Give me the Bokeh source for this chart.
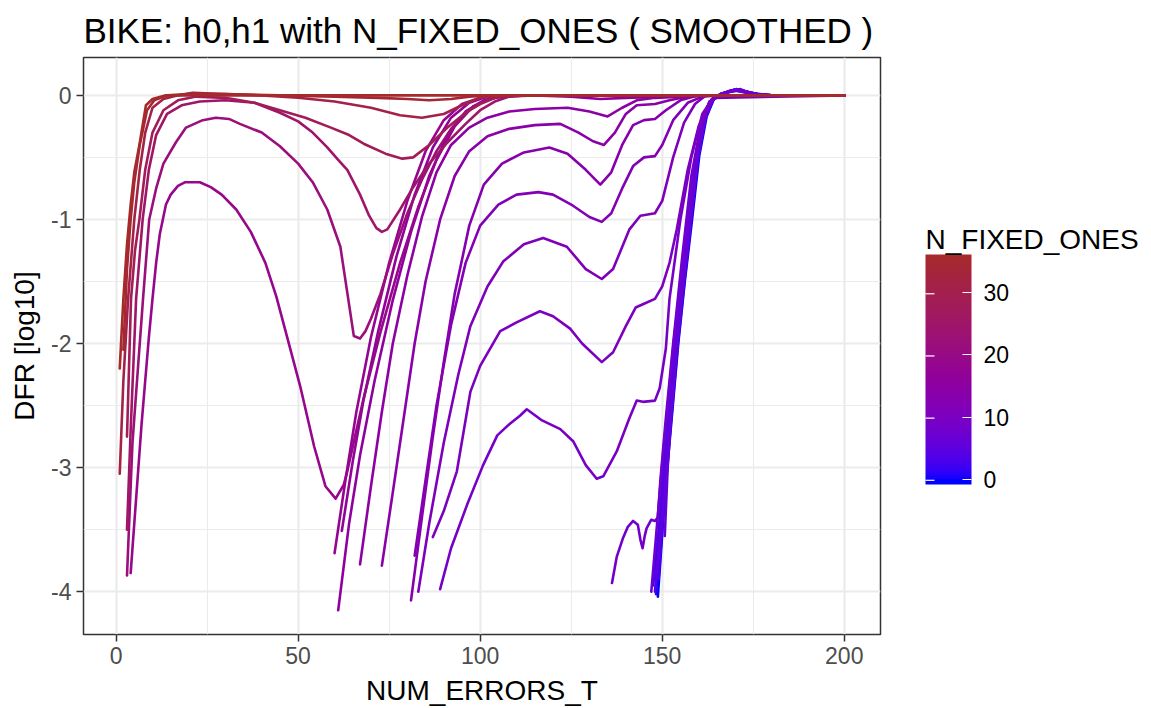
from bokeh.plotting import figure
from bokeh.layouts import row
from bokeh.models import ColumnDataSource, LinearColorMapper, ColorBar, FixedTicker, Range1d, Label
from bokeh.transform import transform
from bokeh.embed import file_html
from bokeh.resources import INLINE

# ---------------- data ----------------
x_n36 = [1, 2, 3, 4, 5, 6.4, 8.2, 10, 13.7, 20, 40, 60, 80, 100, 120, 140, 160, 180, 200]
y_n36 = [-2.2, -1.64, -1.2, -0.88, -0.62, -0.4, -0.08, -0.03, 0, 0, 0, 0, 0, 0, 0, 0, 0, 0, 0]

x_n34 = [2, 3, 4, 5, 6.5, 8.5, 10.5, 14, 20, 30, 45, 60, 72, 80, 86, 92, 97, 102, 120, 150, 170, 200]
y_n34 = [-2.05, -1.4, -1.0, -0.7, -0.4, -0.12, -0.04, 0, 0.01, 0.01, 0, -0.01, -0.02, -0.03, -0.04, -0.03, -0.01, 0, 0, 0, 0, 0]

x_n31 = [1, 2, 3.3, 5, 6.5, 8, 10, 13, 17, 21, 30, 40, 50, 60, 70, 78, 84, 90, 95, 100, 105, 120, 150, 200]
y_n31 = [-3.05, -2.3, -1.64, -1.0, -0.6, -0.3, -0.1, -0.03, 0, 0.02, 0.01, 0, -0.02, -0.05, -0.1, -0.16, -0.18, -0.15, -0.08, -0.02, 0, 0, 0, 0]

x_n28 = [3, 4.1, 5.2, 6.4, 8, 10, 13, 17, 22, 30, 38, 45, 52, 59, 64, 68, 74, 78.6, 81.6, 86, 91, 96, 100, 105, 110, 130, 160, 200]
y_n28 = [-2.75, -1.64, -1.25, -1.0, -0.6, -0.3, -0.12, -0.04, -0.01, -0.02, -0.06, -0.12, -0.18, -0.26, -0.32, -0.39, -0.47, -0.51, -0.5, -0.4, -0.26, -0.14, -0.07, -0.01, 0, 0, 0, 0]

x_n25 = [3, 4, 5.5, 7.3, 9, 11, 14, 18, 23, 30, 38, 45, 50, 54, 58, 61, 63.5, 67, 69.5, 71.5, 73, 74.5, 78, 81.6, 86, 91, 96, 100, 104, 108, 112, 140, 200]
y_n25 = [-3.5, -2.7, -1.64, -1.0, -0.6, -0.32, -0.15, -0.08, -0.05, -0.04, -0.06, -0.14, -0.21, -0.3, -0.42, -0.52, -0.6, -0.8, -0.97, -1.07, -1.1, -1.08, -0.92, -0.74, -0.55, -0.38, -0.23, -0.12, -0.05, -0.01, 0, 0, 0]

x_n22 = [3, 4.5, 6, 7.4, 9.1, 11, 13, 16.4, 19.2, 23.8, 27.4, 31, 34, 40, 45, 50, 54, 58, 61.6, 63.5, 65.3, 67, 68.5, 70, 72.6, 76, 80, 84, 88, 92, 96, 100, 104, 110, 140, 200]
y_n22 = [-3.87, -2.8, -2.2, -1.64, -1.0, -0.75, -0.55, -0.38, -0.26, -0.2, -0.18, -0.19, -0.23, -0.3, -0.41, -0.55, -0.7, -0.92, -1.22, -1.59, -1.94, -1.96, -1.9, -1.8, -1.6, -1.28, -0.95, -0.68, -0.45, -0.27, -0.14, -0.06, -0.02, 0, 0, 0]

x_n19 = [4, 5, 6, 7, 8, 9, 10, 11, 12, 13.7, 15, 17, 19, 23, 26, 29, 33, 37, 41, 44, 47, 50.7, 54.4, 57.5, 60.3, 62.5, 63.5, 66, 68, 72.6, 78, 83, 88, 93, 98, 103, 108, 140, 200]
y_n19 = [-3.85, -3.45, -3.05, -2.65, -2.3, -1.95, -1.64, -1.35, -1.12, -0.88, -0.8, -0.73, -0.7, -0.7, -0.74, -0.8, -0.92, -1.1, -1.35, -1.62, -1.95, -2.36, -2.83, -3.15, -3.25, -3.14, -3.03, -2.7, -2.44, -1.91, -1.35, -0.9, -0.52, -0.25, -0.09, -0.02, 0, 0, 0]

x_n18 = [60, 63, 66, 70, 75, 80, 85, 90, 95, 100, 105, 120, 150, 200]
y_n18 = [-3.69, -3.1, -2.55, -1.95, -1.35, -0.85, -0.45, -0.2, -0.07, -0.02, 0, 0, 0, 0]

x_n17 = [62, 65, 68, 72, 77, 82, 87, 92, 97, 102, 108, 120, 150, 200]
y_n17 = [-3.51, -2.95, -2.45, -1.9, -1.3, -0.8, -0.42, -0.18, -0.06, -0.01, 0, 0, 0, 0]

x_n16 = [61, 64, 67, 71, 76, 81, 86, 91, 96, 101, 106, 115, 125, 133, 140, 150, 160, 200]
y_n16 = [-4.15, -3.45, -2.9, -2.3, -1.65, -1.1, -0.65, -0.32, -0.13, -0.04, -0.01, 0, -0.01, -0.03, -0.02, -0.01, 0, 0]

x_n15 = [67, 70, 73, 76, 80, 84, 88, 92, 97, 102, 108, 115, 124, 130, 135, 139, 143, 148, 155, 162, 200]
y_n15 = [-3.78, -3.15, -2.55, -2.0, -1.45, -0.98, -0.62, -0.4, -0.26, -0.18, -0.13, -0.11, -0.1, -0.13, -0.17, -0.1, -0.04, -0.02, -0.01, 0, 0]

x_n14 = [73, 76, 79, 82, 85, 89, 93, 97, 102, 108, 115, 122, 127, 131, 134, 137, 140, 143, 148, 152, 157, 162, 200]
y_n14 = [-3.79, -3.2, -2.6, -2.0, -1.5, -1.0, -0.65, -0.45, -0.33, -0.27, -0.24, -0.23, -0.3, -0.37, -0.4, -0.3, -0.15, -0.08, -0.07, -0.04, -0.01, 0, 0]

x_n13 = [81, 84, 87, 90, 93, 97, 101, 106, 112, 119, 124, 129, 133, 136, 139, 142, 145, 148, 151, 155, 160, 200]
y_n13 = [-4.07, -3.4, -2.75, -2.15, -1.6, -1.05, -0.72, -0.55, -0.46, -0.42, -0.47, -0.6, -0.72, -0.62, -0.4, -0.24, -0.2, -0.19, -0.12, -0.04, 0, 0]

x_n12 = [82, 85, 88, 92, 96, 100, 105, 110, 116, 120, 125, 130, 133.4, 136, 139, 142, 145, 148, 150, 153, 157, 161, 165, 200]
y_n12 = [-3.71, -3.1, -2.5, -1.85, -1.35, -1.05, -0.88, -0.8, -0.78, -0.8, -0.88, -0.98, -1.02, -0.95, -0.75, -0.57, -0.5, -0.49, -0.4, -0.2, -0.06, -0.01, 0, 0]

x_n11 = [83, 86, 90, 94, 97.3, 102, 106.3, 112, 117.3, 123.8, 129, 133.4, 136.5, 141, 144, 148, 150, 153, 156, 159, 162, 200]
y_n11 = [-4.0, -3.45, -2.8, -2.25, -1.86, -1.54, -1.34, -1.2, -1.15, -1.22, -1.4, -1.48, -1.4, -1.08, -0.97, -0.95, -0.85, -0.5, -0.22, -0.07, 0, 0]

x_n10 = [87, 90, 93.6, 97.3, 100, 105.5, 110, 116.4, 120, 124.7, 128, 133.4, 136.5, 140, 142.7, 145, 148, 150, 152, 154, 157, 160, 163, 166, 200]
y_n10 = [-3.56, -3.35, -3.03, -2.39, -2.18, -1.9, -1.83, -1.74, -1.78, -1.88, -2.0, -2.15, -2.07, -1.86, -1.71, -1.68, -1.64, -1.54, -1.35, -1.08, -0.6, -0.25, -0.05, 0, 0]

x_n9 = [89, 92, 96.4, 100.8, 104.7, 108, 111, 112.8, 117, 122, 125.6, 129, 132, 133.8, 137.5, 141, 143, 144.7, 148, 149.3, 151, 152, 155, 158, 161, 164, 200]
y_n9 = [-3.98, -3.65, -3.3, -2.98, -2.74, -2.65, -2.58, -2.53, -2.62, -2.69, -2.79, -2.98, -3.09, -3.07, -2.87, -2.6, -2.46, -2.47, -2.46, -2.36, -2.04, -1.64, -1.0, -0.5, -0.15, -0.02, 0]

x_n8 = [136.2, 137.5, 139.2, 140.5, 142, 143.3, 144, 144.6, 145.2, 145.7, 147, 148, 148.8, 149.5, 151, 153, 155.5, 158, 160.5, 163, 166, 170, 175, 180, 200]
y_n8 = [-3.93, -3.72, -3.57, -3.48, -3.43, -3.46, -3.58, -3.65, -3.55, -3.49, -3.42, -3.43, -3.4, -3.1, -2.6, -2.0, -1.3, -0.65, -0.25, -0.05, 0.0, 0.04, 0.01, 0, 0]

x_n7 = [147, 148.6, 149.9, 151.5, 153.1, 155, 157, 159, 161, 163, 165.5, 168, 170.5, 173, 176, 180, 200]
y_n7 = [-4.0, -3.45, -3.0, -2.5, -2.0, -1.5, -1.0, -0.52, -0.22, -0.05, 0.0, 0.03, 0.05, 0.03, 0.01, 0, 0]

x_n6 = [150.7, 151.5, 152.6, 154, 155.8, 157.7, 159.7, 161.7, 163.6, 166, 168.5, 171, 174, 178, 200]
y_n6 = [-3.55, -3.0, -2.5, -2.0, -1.5, -1.0, -0.5, -0.18, -0.03, 0.01, 0.03, 0.04, 0.02, 0, 0]

x_n5 = [148.5, 150, 151.2, 152.6, 154.1, 155.9, 157.8, 159.8, 161.8, 163.8, 166, 168, 170.5, 173, 176, 180, 200]
y_n5 = [-3.85, -3.4, -3.0, -2.5, -2.0, -1.5, -1.0, -0.5, -0.19, -0.04, 0.01, 0.03, 0.05, 0.03, 0.01, 0, 0]

x_n4 = [148, 149.5, 150.7, 152.2, 153.7, 155.5, 157.5, 159.5, 161.5, 163.5, 166, 168, 170.5, 173, 176, 180, 200]
y_n4 = [-4.0, -3.45, -3.0, -2.5, -2.0, -1.5, -1.0, -0.5, -0.2, -0.04, 0.01, 0.03, 0.05, 0.03, 0.01, 0, 0]

x_n3 = [149, 150.2, 151.3, 152.8, 154.3, 156.1, 158, 160, 162, 164, 166.5, 169, 171.5, 174, 178, 200]
y_n3 = [-3.9, -3.4, -3.0, -2.5, -2.0, -1.5, -1.0, -0.48, -0.17, -0.03, 0.01, 0.04, 0.05, 0.02, 0, 0]

x_n2 = [147.5, 149.2, 150.4, 151.9, 153.4, 155.2, 157.2, 159.2, 161.2, 163.2, 165.5, 168, 170.5, 173, 176, 180, 200]
y_n2 = [-3.95, -3.45, -3.0, -2.5, -2.0, -1.5, -1.0, -0.5, -0.21, -0.05, 0.0, 0.03, 0.05, 0.03, 0.01, 0, 0]

x_n1 = [148.3, 149.8, 151, 152.5, 154, 155.8, 157.8, 159.8, 161.8, 163.8, 166, 168.5, 171, 174, 178, 200]
y_n1 = [-4.02, -3.45, -3.0, -2.5, -2.0, -1.5, -1.0, -0.5, -0.19, -0.04, 0.01, 0.03, 0.04, 0.02, 0, 0]

x_n0 = [148.8, 150.2, 151.4, 152.9, 154.4, 156.2, 158.2, 160.2, 162.2, 164.2, 167, 170, 174, 180, 200]
y_n0 = [-4.04, -3.45, -3.0, -2.5, -2.0, -1.5, -1.0, -0.48, -0.17, -0.03, 0.02, 0.04, 0.02, 0, 0]

n_fixed_ones = [0, 1, 2, 3, 4, 5, 6, 7, 8, 9, 10, 11, 12, 13, 14, 15, 16, 17, 18, 19, 22, 25, 28, 31, 34, 36]
series_x = [x_n0, x_n1, x_n2, x_n3, x_n4, x_n5, x_n6, x_n7, x_n8, x_n9, x_n10, x_n11, x_n12, x_n13,
            x_n14, x_n15, x_n16, x_n17, x_n18, x_n19, x_n22, x_n25, x_n28, x_n31, x_n34, x_n36]
series_y = [y_n0, y_n1, y_n2, y_n3, y_n4, y_n5, y_n6, y_n7, y_n8, y_n9, y_n10, y_n11, y_n12, y_n13,
            y_n14, y_n15, y_n16, y_n17, y_n18, y_n19, y_n22, y_n25, y_n28, y_n31, y_n34, y_n36]

x_ticks = [0, 50, 100, 150, 200]
x_minor = [25, 75, 125, 175]
y_ticks = [-4, -3, -2, -1, 0]
y_minor = [-3.5, -2.5, -1.5, -0.5]
legend_ticks = [0, 10, 20, 30]

# ---------------- colour scale: blue -> brown, interpolated in CIELAB ----------------
def hex_to_lab(h):
    def lin(c):
        return c / 12.92 if c <= 0.04045 else ((c + 0.055) / 1.055) ** 2.4
    r, g, b = [lin(int(h[i:i + 2], 16) / 255) for i in (1, 3, 5)]
    X = 0.4124 * r + 0.3576 * g + 0.1805 * b
    Y = 0.2126 * r + 0.7152 * g + 0.0722 * b
    Z = 0.0193 * r + 0.1192 * g + 0.9505 * b
    def f(t):
        return t ** (1 / 3) if t > 0.008856 else 7.787 * t + 16 / 116
    fx, fy, fz = f(X / 0.95047), f(Y), f(Z / 1.08883)
    return 116 * fy - 16, 500 * (fx - fy), 200 * (fy - fz)

def lab_to_hex(L, a, b):
    fy = (L + 16) / 116
    fx = fy + a / 500
    fz = fy - b / 200
    def finv(t):
        return t ** 3 if t ** 3 > 0.008856 else (t - 16 / 116) / 7.787
    X, Y, Z = 0.95047 * finv(fx), finv(fy), 1.08883 * finv(fz)
    r = 3.2406 * X - 1.5372 * Y - 0.4986 * Z
    g = -0.9689 * X + 1.8758 * Y + 0.0415 * Z
    bb = 0.0557 * X - 0.2040 * Y + 1.0570 * Z
    def gam(c):
        c = min(max(c, 0.0), 1.0)
        return 12.92 * c if c <= 0.0031308 else 1.055 * c ** (1 / 2.4) - 0.055
    return "#%02x%02x%02x" % tuple(int(round(gam(c) * 255)) for c in (r, g, bb))

LOW_LAB = hex_to_lab("#0000FF")
HIGH_LAB = hex_to_lab("#A52A2A")
C_LOW, C_HIGH = -0.8, 36.0
N_MAX = 36.0
palette = []
for k in range(256):
    v = C_LOW + (k + 0.5) * (C_HIGH - C_LOW) / 256
    t = min(max(v / N_MAX, 0.0), 1.0)
    palette.append(lab_to_hex(*[lo + t * (hi - lo) for lo, hi in zip(LOW_LAB, HIGH_LAB)]))

mapper = LinearColorMapper(palette=palette, low=C_LOW, high=C_HIGH)

# ---------------- main figure ----------------
FONT = "Liberation Sans"
TOP, BOTTOM_BORDER = 57, 71
p = figure(width=882, height=708, output_backend="svg", toolbar_location=None,
           x_range=Range1d(-8.95, 209.95), y_range=Range1d(-4.345, 0.305),
           min_border_left=83, min_border_right=2, min_border_top=TOP, min_border_bottom=BOTTOM_BORDER,
           title="BIKE: h0,h1 with N_FIXED_ONES ( SMOOTHED )")
p.title.text_font = FONT
p.title.text_font_size = "35px"
p.title.text_font_style = "normal"
p.title.text_color = "#000000"
p.title.align = "left"
p.title.standoff = 15
p.background_fill_color = "white"
p.border_fill_color = "white"
p.outline_line_color = "#333333"
p.outline_line_width = 1.5

for ax in (p.xaxis[0], p.yaxis[0]):
    ax.axis_line_color = None
    ax.major_tick_line_color = "#333333"
    ax.major_tick_line_width = 1.5
    ax.major_tick_out = 7
    ax.major_tick_in = 0
    ax.minor_tick_line_color = None
    ax.major_label_text_font = FONT
    ax.major_label_text_font_size = "23px"
    ax.major_label_text_color = "#4D4D4D"
    ax.major_label_standoff = 5
    ax.axis_label_text_font = FONT
    ax.axis_label_text_font_size = "28px"
    ax.axis_label_text_font_style = "normal"
    ax.axis_label_text_color = "#000000"
    ax.axis_label_standoff = 8

p.xaxis.ticker = FixedTicker(ticks=x_ticks, minor_ticks=x_minor)
p.yaxis.ticker = FixedTicker(ticks=y_ticks, minor_ticks=y_minor)
p.yaxis.major_label_overrides = {t: str(t) for t in y_ticks}
p.xaxis.axis_label = "NUM_ERRORS_T"
p.yaxis.axis_label = "DFR [log10]"

for g in (p.xgrid[0], p.ygrid[0]):
    g.grid_line_color = "#EBEBEB"
    g.grid_line_width = 2.2
    g.minor_grid_line_color = "#EBEBEB"
    g.minor_grid_line_width = 1.1
p.xgrid.ticker = FixedTicker(ticks=x_ticks, minor_ticks=x_minor)
p.ygrid.ticker = FixedTicker(ticks=y_ticks, minor_ticks=y_minor)

src = ColumnDataSource(dict(xs=series_x, ys=series_y, N=n_fixed_ones))
p.multi_line(xs="xs", ys="ys", source=src, line_color=transform("N", mapper),
             line_width=2.6, line_join="round", line_cap="round")

# ---------------- legend panel (colour bar) ----------------
# The row aligns this panel's frame with the main frame (page y 57..637);
# its data coordinates are set so that y = 708 - page_y and x = page_x - 882.
LW, LH = 269, 708
leg = figure(width=LW, height=LH, output_backend="svg", toolbar_location=None,
             x_range=Range1d(0, LW), y_range=Range1d(BOTTOM_BORDER, LH - TOP),
             x_axis_type=None, y_axis_type=None, min_border=0,
             outline_line_color=None, background_fill_color="white", border_fill_color="white")
leg.grid.visible = False

BAR_X, BAR_Y, BAR_W, BAR_H = 43, 221, 46, 230
cb = ColorBar(color_mapper=mapper, ticker=FixedTicker(ticks=legend_ticks),
              width=BAR_W, height=BAR_H, location=(BAR_X, BAR_Y - BOTTOM_BORDER), padding=0, margin=0,
              title=None,
              major_label_text_font=FONT, major_label_text_font_size="23px",
              major_label_text_color="#000000", label_standoff=12,
              major_tick_line_color="white", major_tick_line_width=1.2,
              major_tick_in=9, major_tick_out=0, minor_tick_line_color=None,
              bar_line_color=None, border_line_color=None, background_fill_alpha=0)
leg.add_layout(cb)

# white tick marks on the left edge of the bar (ggplot draws them on both edges)
tick_y = [BAR_Y + (t - C_LOW) / (C_HIGH - C_LOW) * BAR_H for t in legend_ticks]
leg.segment(x0=[BAR_X] * len(tick_y), y0=tick_y, x1=[BAR_X + 9] * len(tick_y), y1=tick_y,
            line_color="white", line_width=1.2, level="overlay")

leg.add_layout(Label(x=BAR_X, y=LH - 240, text="N_FIXED_ONES", text_font=FONT,
                     text_font_size="28px", text_color="#000000",
                     text_baseline="alphabetic", text_align="left"))

layout = row(p, leg)
open("out.html", "w").write(file_html(layout, INLINE))
